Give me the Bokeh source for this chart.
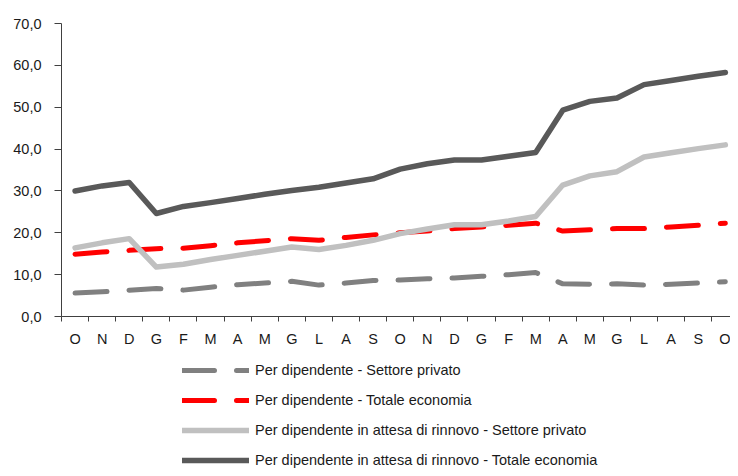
from bokeh.plotting import figure
from bokeh.models import Range1d, FixedTicker, Legend, LegendItem
from bokeh.layouts import column
from bokeh.embed import file_html
from bokeh.resources import INLINE
import numpy as np

months = ["O", "N", "D", "G", "F", "M", "A", "M", "G", "L", "A", "S",
          "O", "N", "D", "G", "F", "M", "A", "M", "G", "L", "A", "S", "O"]

priv = [5.6, 5.9, 6.3, 6.7, 6.3, 7.0, 7.6, 8.0, 8.4, 7.5, 8.0, 8.6,
        8.7, 9.0, 9.2, 9.6, 10.0, 10.5, 7.8, 7.7, 7.8, 7.5, 7.7, 8.0, 8.3]
tot = [14.9, 15.4, 15.8, 16.2, 16.3, 16.9, 17.6, 18.1, 18.6, 18.2, 18.9, 19.5,
       20.0, 20.4, 21.0, 21.4, 21.8, 22.3, 20.4, 20.7, 21.0, 21.0, 21.4, 21.8, 22.3]
priv_r = [16.4, 17.6, 18.6, 11.8, 12.5, 13.6, 14.6, 15.6, 16.6, 16.0, 17.0, 18.2,
          19.8, 20.9, 21.9, 21.9, 22.8, 23.9, 31.4, 33.6, 34.6, 38.1, 39.1, 40.1, 41.0]
tot_r = [30.0, 31.2, 32.0, 24.6, 26.3, 27.2, 28.2, 29.2, 30.1, 30.9, 31.9, 32.9,
         35.2, 36.5, 37.4, 37.4, 38.3, 39.2, 49.3, 51.4, 52.2, 55.4, 56.4, 57.4, 58.3]

labels = ["Per dipendente - Settore privato",
          "Per dipendente - Totale economia",
          "Per dipendente in attesa di rinnovo - Settore privato",
          "Per dipendente in attesa di rinnovo - Totale economia"]

y_ticks = [0, 10, 20, 30, 40, 50, 60, 70]

FONT = "Liberation Sans"
FS = "14.5px"
TXT = "#1a1a1a"
AX = "#404040"

styles = [
    dict(line_color="#808080", line_width=5, line_dash="32 22"),
    dict(line_color="#ff0000", line_width=5, line_dash="32 22"),
    dict(line_color="#c0c0c0", line_width=5.5),
    dict(line_color="#595959", line_width=5.5),
]
series = [priv, tot, priv_r, tot_r]

n = len(months)
x = np.arange(n)

p = figure(width=730, height=350, output_backend="svg", toolbar_location=None,
           x_range=Range1d(-0.5, 24.19), y_range=Range1d(0, 70),
           min_border_left=61, min_border_right=0, min_border_top=23,
           min_border_bottom=34)
p.outline_line_color = None
p.xgrid.visible = False
p.ygrid.visible = False

for s, st in zip(series, styles):
    p.line(x, s, line_cap="round", line_join="round", **st)

# x axis
xa = p.xaxis[0]
xa.ticker = FixedTicker(ticks=list(range(n)),
                        minor_ticks=[i - 0.5 for i in range(n + 1)])
xa.major_label_overrides = {i: m for i, m in enumerate(months)}
xa.major_tick_out = 0
xa.major_tick_in = 0
xa.minor_tick_out = 5
xa.minor_tick_in = 0
xa.minor_tick_line_color = AX
xa.axis_line_color = AX
xa.major_label_standoff = 9
xa.major_label_text_font = FONT
xa.major_label_text_font_size = FS
xa.major_label_text_color = TXT

# y axis
ya = p.yaxis[0]
ya.ticker = FixedTicker(ticks=y_ticks, minor_ticks=[])
ya.major_label_overrides = {v: f"{v:.1f}".replace(".", ",") for v in y_ticks}
ya.major_tick_out = 7
ya.major_tick_in = 0
ya.minor_tick_out = 0
ya.minor_tick_in = 0
ya.major_tick_line_color = AX
ya.axis_line_color = AX
ya.major_label_standoff = 13
ya.major_label_text_font = FONT
ya.major_label_text_font_size = FS
ya.major_label_text_color = TXT

# legend panel (its ranges keep the series themselves out of view)
q = figure(width=730, height=118, output_backend="svg", toolbar_location=None,
           x_range=Range1d(-10, -9), y_range=Range1d(-10, -9),
           x_axis_type=None, y_axis_type=None,
           min_border_left=0, min_border_right=0, min_border_top=0,
           min_border_bottom=0)
q.outline_line_color = None
q.xgrid.visible = False
q.ygrid.visible = False
keys = [q.line(x, s, line_cap="round", line_join="round", **st)
        for s, st in zip(series, styles)]

legend = Legend(items=[LegendItem(label=l, renderers=[r]) for l, r in
                       zip(labels, keys)],
                location=(121, -2), orientation="vertical",
                glyph_width=67, glyph_height=20, label_height=20,
                spacing=10, padding=0, margin=0, label_standoff=6,
                label_text_font=FONT, label_text_font_size=FS,
                label_text_color=TXT, border_line_color=None,
                background_fill_alpha=0)
q.add_layout(legend, "center")

layout = column(p, q, spacing=0)
open("out.html", "w").write(file_html(layout, INLINE))
